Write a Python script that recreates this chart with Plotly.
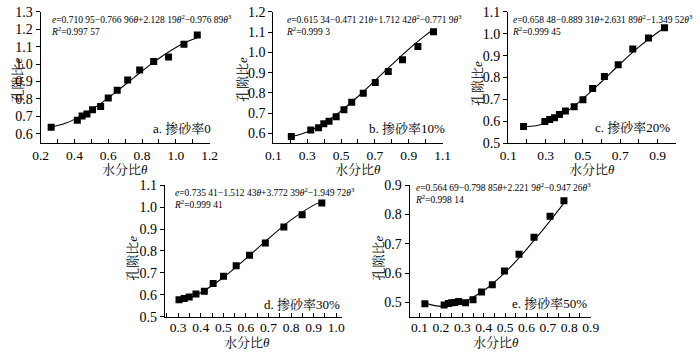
import plotly.graph_objects as go

W, H = 700, 352

# ---------------- data ----------------
a_theta = [0.262, 0.417, 0.445, 0.474, 0.507, 0.555, 0.600, 0.653, 0.715, 0.786, 0.869, 0.957, 1.048, 1.127]
a_e = [0.637, 0.677, 0.701, 0.713, 0.737, 0.756, 0.805, 0.849, 0.909, 0.966, 1.015, 1.041, 1.114, 1.167]
a_fit_theta = [0.26, 0.35, 0.45, 0.55, 0.65, 0.75, 0.85, 0.95, 1.05, 1.127]
a_fit_e = [0.638, 0.661, 0.708, 0.770, 0.843, 0.921, 0.997, 1.065, 1.121, 1.151]

b_theta = [0.206, 0.321, 0.367, 0.398, 0.429, 0.471, 0.517, 0.563, 0.631, 0.702, 0.779, 0.863, 0.954, 1.046]
b_e = [0.584, 0.617, 0.627, 0.647, 0.660, 0.682, 0.716, 0.754, 0.798, 0.851, 0.905, 0.964, 1.029, 1.102]
b_fit_theta = [0.206, 0.3, 0.4, 0.5, 0.6, 0.7, 0.8, 0.9, 1.0, 1.046]
b_fit_e = [0.584, 0.607, 0.651, 0.711, 0.782, 0.860, 0.939, 1.016, 1.085, 1.113]

c_theta = [0.182, 0.296, 0.322, 0.348, 0.374, 0.406, 0.453, 0.500, 0.552, 0.615, 0.689, 0.767, 0.851, 0.937]
c_e = [0.577, 0.599, 0.608, 0.616, 0.631, 0.647, 0.667, 0.699, 0.750, 0.805, 0.859, 0.930, 0.981, 1.028]
c_fit_theta = [0.182, 0.25, 0.3, 0.4, 0.5, 0.6, 0.7, 0.8, 0.9, 0.937]
c_fit_e = [0.576, 0.580, 0.592, 0.637, 0.703, 0.781, 0.863, 0.940, 1.006, 1.026]

d_theta = [0.304, 0.327, 0.349, 0.379, 0.416, 0.455, 0.501, 0.557, 0.616, 0.686, 0.768, 0.849, 0.936]
d_e = [0.577, 0.583, 0.590, 0.604, 0.616, 0.651, 0.684, 0.733, 0.780, 0.836, 0.909, 0.965, 1.019]
d_fit_theta = [0.304, 0.35, 0.4, 0.5, 0.6, 0.7, 0.8, 0.9, 0.936]
d_fit_e = [0.569, 0.585, 0.609, 0.679, 0.765, 0.856, 0.942, 1.009, 1.026]

e_theta = [0.125, 0.215, 0.235, 0.250, 0.265, 0.283, 0.315, 0.350, 0.390, 0.440, 0.497, 0.565, 0.635, 0.710, 0.775]
e_e = [0.495, 0.491, 0.496, 0.498, 0.499, 0.503, 0.498, 0.509, 0.535, 0.560, 0.607, 0.664, 0.722, 0.794, 0.847]
e_fit_theta = [0.125, 0.15, 0.2, 0.25, 0.3, 0.35, 0.4, 0.45, 0.5, 0.55, 0.6, 0.65, 0.7, 0.775]
e_fit_e = [0.498, 0.492, 0.486, 0.489, 0.499, 0.517, 0.540, 0.569, 0.602, 0.640, 0.681, 0.724, 0.769, 0.839]

# tick labels
a_xticks = [0.2, 0.4, 0.6, 0.8, 1.0, 1.2]
a_yticks = [0.6, 0.7, 0.8, 0.9, 1.0, 1.1, 1.2, 1.3]
b_xticks = [0.1, 0.3, 0.5, 0.7, 0.9, 1.1]
b_yticks = [0.6, 0.7, 0.8, 0.9, 1.0, 1.1, 1.2]
c_xticks = [0.1, 0.3, 0.5, 0.7, 0.9]
c_yticks = [0.5, 0.6, 0.7, 0.8, 0.9, 1.0, 1.1]
d_xticks = [0.3, 0.4, 0.5, 0.6, 0.7, 0.8, 0.9, 1.0]
d_yticks = [0.5, 0.6, 0.7, 0.8, 0.9, 1.0, 1.1]
e_xticks = [0.1, 0.2, 0.3, 0.4, 0.5, 0.6, 0.7, 0.8, 0.9]
e_yticks = [0.5, 0.6, 0.7, 0.8, 0.9]

equations = [
    "<i>e</i>=0.710 95−0.766 96<i>θ</i>+2.128 19<i>θ</i><sup>2</sup>−0.976 89<i>θ</i><sup>3</sup>",
    "<i>e</i>=0.615 34−0.471 21<i>θ</i>+1.712 42<i>θ</i><sup>2</sup>−0.771 9<i>θ</i><sup>3</sup>",
    "<i>e</i>=0.658 48−0.889 31<i>θ</i>+2.631 89<i>θ</i><sup>2</sup>−1.349 52<i>θ</i><sup>3</sup>",
    "<i>e</i>=0.735 41−1.512 43<i>θ</i>+3.772 39<i>θ</i><sup>2</sup>−1.949 72<i>θ</i><sup>3</sup>",
    "<i>e</i>=0.564 69−0.798 85<i>θ</i>+2.221 9<i>θ</i><sup>2</sup>−0.947 26<i>θ</i><sup>3</sup>",
]
r2_texts = [
    "<i>R</i><sup>2</sup>=0.997 57",
    "<i>R</i><sup>2</sup>=0.999 3",
    "<i>R</i><sup>2</sup>=0.999 45",
    "<i>R</i><sup>2</sup>=0.999 41",
    "<i>R</i><sup>2</sup>=0.998 14",
]
panel_labels = ["a. 掺砂率0", "b. 掺砂率10%", "c. 掺砂率20%", "d. 掺砂率30%", "e. 掺砂率50%"]
x_title = "水分比<i>θ</i>"
y_title = "孔隙比<i>e</i>"

# ---------------- layout (pixel geometry) ----------------
panels = [
    dict(pts=(a_theta, a_e), fit=(a_fit_theta, a_fit_e), xt=a_xticks, ytk=a_yticks,
         px=(33.5, 206.7), py=(5, 142.3), xr=[0.2, 1.2005], yr=[0.545, 1.3005],
         xm0=0.2, xm=0.1, so=-1,
         eq=(43, 18.5), lab=(210, 127), ytp=(10, 76), xtp=(120, 170)),
    dict(pts=(b_theta, b_e), fit=(b_fit_theta, b_fit_e), xt=b_xticks, ytk=b_yticks,
         px=(272, 445.5), py=(5, 142.3), xr=[0.1, 1.1005], yr=[0.551, 1.2005],
         xm0=0.1, xm=0.1, so=-1,
         eq=(284, 18.5), lab=(450, 127), ytp=(241, 76), xtp=(359, 170)),
    dict(pts=(c_theta, c_e), fit=(c_fit_theta, c_fit_e), xt=c_xticks, ytk=c_yticks,
         px=(512.7, 685), py=(5, 142.3), xr=[0.1, 1.0005], yr=[0.5, 1.1005],
         xm0=0.1, xm=0.1, so=-1,
         eq=(516, 18.5), lab=(681, 126), ytp=(481, 80), xtp=(599, 170)),
    dict(pts=(d_theta, d_e), fit=(d_fit_theta, d_fit_e), xt=d_xticks, ytk=d_yticks,
         px=(160.7, 342.7), py=(186, 323.5), xr=[0.241, 1.027], yr=[0.5, 1.1005],
         xm0=0.3, xm=0.05, so=-2,
         eq=(169, 199.5), lab=(342, 311), ytp=(128, 262), xtp=(245, 350)),
    dict(pts=(e_theta, e_e), fit=(e_fit_theta, e_fit_e), xt=e_xticks, ytk=e_yticks,
         px=(411.7, 597.3), py=(186, 324), xr=[0.054, 0.9005], yr=[0.449, 0.9005],
         xm0=0.1, xm=0.05, so=-2,
         eq=(416, 194.5), lab=(595, 310), ytp=(380, 262), xtp=(500, 350)),
]

SERIF = "Liberation Serif, Times New Roman, serif"
MIXED = "Liberation Serif, Noto Serif CJK SC, Noto Sans CJK SC, serif"

fig = go.Figure()
annotations = []


def fx(x):
    return x / W


def fy(y):
    return 1 - y / H


for i, p in enumerate(panels):
    n = "" if i == 0 else str(i + 1)
    xa, ya = "x" + n, "y" + n
    fig.add_trace(go.Scatter(x=p["fit"][0], y=p["fit"][1], mode="lines",
                             line=dict(color="black", width=1.1, shape="spline"),
                             xaxis=xa, yaxis=ya, showlegend=False, hoverinfo="skip"))
    fig.add_trace(go.Scatter(x=p["pts"][0], y=p["pts"][1], mode="markers",
                             marker=dict(symbol="square", size=7, color="black"),
                             xaxis=xa, yaxis=ya, showlegend=False))
    fig.update_layout(**{
        "xaxis" + n: dict(domain=[fx(p["px"][0]), fx(p["px"][1])], anchor=ya,
                          range=p["xr"], tickmode="array", tickvals=p["xt"],
                          ticktext=[f"{v:.1f}" for v in p["xt"]],
                          ticks="inside", ticklen=4, tickwidth=1, tickcolor="black",
                          ticklabelstandoff=p["so"],
                          minor=dict(tickmode="linear", dtick=p["xm"], tick0=p["xm0"],
                                     ticks="inside", ticklen=4, tickwidth=1,
                                     tickcolor="black"),
                          showline=True, linecolor="black", linewidth=1.2,
                          showgrid=False, zeroline=False,
                          tickfont=dict(family=SERIF, size=13.5, color="black")),
        "yaxis" + n: dict(domain=[fy(p["py"][1]), fy(p["py"][0])], anchor=xa,
                          range=p["yr"], tickmode="array", tickvals=p["ytk"],
                          ticktext=[f"{v:.1f}" for v in p["ytk"]],
                          ticks="outside", ticklen=4, tickwidth=1, tickcolor="black",
                          showline=True, linecolor="black", linewidth=1.2,
                          showgrid=False, zeroline=False,
                          tickfont=dict(family=SERIF, size=14, color="black")),
    })
    annotations.append(dict(x=fx(p["eq"][0]), y=fy(p["eq"][1]), xref="paper", yref="paper",
                            text=equations[i] + "<br>" + r2_texts[i], align="left",
                            showarrow=False, xanchor="left", yanchor="middle", borderpad=0,
                            font=dict(family=SERIF, size=9.5, color="black")))
    annotations.append(dict(x=fx(p["lab"][0]), y=fy(p["lab"][1]), xref="paper", yref="paper",
                            text=panel_labels[i], showarrow=False, xanchor="right", yanchor="middle",
                            font=dict(family=MIXED, size=13, color="black")))
    annotations.append(dict(x=fx(p["ytp"][0]), y=fy(p["ytp"][1]), xref="paper", yref="paper",
                            text=y_title, showarrow=False, textangle=-90,
                            xanchor="center", yanchor="middle",
                            font=dict(family=MIXED, size=13, color="black")))
    annotations.append(dict(x=fx(p["xtp"][0]), y=fy(p["xtp"][1]), xref="paper", yref="paper",
                            text=x_title, showarrow=False, xanchor="center", yanchor="middle",
                            font=dict(family=MIXED, size=13, color="black")))

fig.update_layout(width=W, height=H, margin=dict(l=0, r=0, t=0, b=0),
                  paper_bgcolor="white", plot_bgcolor="white",
                  annotations=annotations, showlegend=False)

fig.write_html("out.html")
